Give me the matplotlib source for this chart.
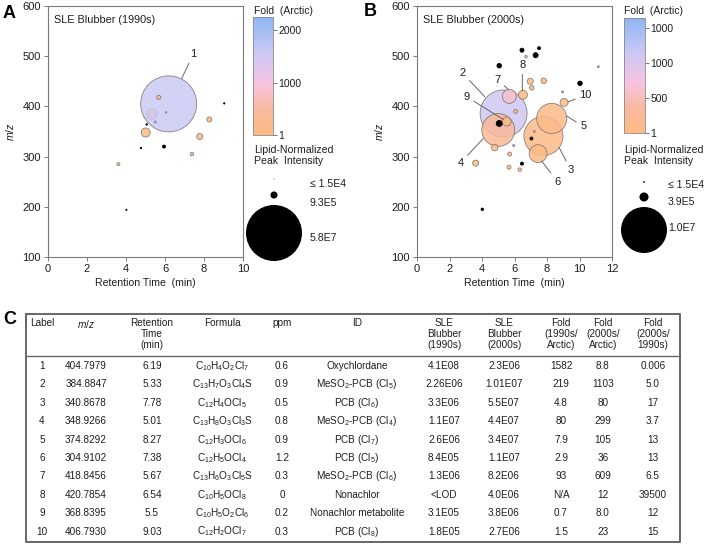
import numpy as np
import matplotlib
matplotlib.use("Agg")
import matplotlib.pyplot as plt
from matplotlib.colors import LinearSegmentedColormap, Normalize
from matplotlib.cm import ScalarMappable

plt.rcParams["font.family"] = ["Liberation Sans", "DejaVu Sans"]
plt.rcParams["mathtext.fontset"] = "custom"
plt.rcParams["mathtext.rm"] = "Liberation Sans"
plt.rcParams["mathtext.it"] = "Liberation Sans:italic"
plt.rcParams["mathtext.bf"] = "Liberation Sans:bold"

NAN = np.nan

# ---- panel A: SLE blubber 1990s ----
a_rt = [5.33, 6.19, 5.68, 6.06, 5.50, 5.06, 5.01, 5.95, 4.77, 3.61, 4.02, 7.78, 8.27, 7.38, 9.04]
a_mz = [385, 405, 418, 388, 369, 364, 348, 320, 317, 285, 194, 340, 374, 305, 406]
a_int = [2.2e6, 5.8e7, 3.0e5, 4e4, 7e4, 4e4, 1.5e6, 1.7e5, 4e4, 1.7e5, 2.7e4, 6.7e5, 4.6e5, 2.3e5, 3.1e4]
a_fold = [219, 1582, 93, 1000, 1000, NAN, 80, NAN, NAN, 3, NAN, 4.8, 7.9, 2.9, NAN]

# ---- panel B: SLE blubber 2000s ----
b_rt = [5.33, 7.78, 5.00, 8.29, 7.45, 5.68, 6.52, 5.52, 9.05, 4.78, 6.97, 3.61, 7.80, 7.06, 6.07,
        5.70, 5.66, 6.32, 6.71,
        5.06, 7.30, 5.06, 10.03, 6.46, 7.51, 7.04, 6.46, 4.02,
        11.16, 8.96, 7.22, 5.95]
b_mz = [386, 341, 353, 376, 306, 420, 423, 370, 408, 318, 450, 287, 451, 437, 390,
        305, 279, 274, 499,
        366, 502, 481, 446, 512, 516, 336, 286, 195,
        479, 429, 350, 322]
b_int = [1.04e7, 7.2e6, 5.1e6, 4.3e6, 1.5e6, 9.3e5, 3.8e5, 3.8e5, 3.0e5, 2.0e5, 1.7e5, 1.7e5, 1.4e5, 9.6e4, 7.6e4,
         7.6e4, 7.6e4, 5.8e4, 3e4,
         1.7e5, 1.2e5, 9.6e4, 9.6e4, 7.6e4, 4.3e4, 4.3e4, 4.3e4, 3e4,
         1.9e4, 1.9e4, 1.9e4, 1.9e4]
b_fold = [1103, 80, 299, 105, 36, 609, 12, 8.0, 23, 15, 10, 10, 10, 10, 8.8,
          10, 10, 10, 10,
          NAN, NAN, NAN, NAN, NAN, NAN, NAN, NAN, NAN,
          1500, 1500, 1500, 1500]

# labels: (label, bubble point, text point)
a_labels = [("1", (6.86, 456), (7.45, 504))]
b_labels = [
    ("2", (4.18, 419), (2.81, 466)),
    ("7", (5.62, 434), (4.94, 453)),
    ("8", (6.48, 431), (6.48, 482)),
    ("9", (5.31, 374), (3.06, 419)),
    ("4", (4.08, 336), (2.69, 288)),
    ("6", (7.67, 291), (8.66, 250)),
    ("3", (8.76, 317), (9.48, 273)),
    ("5", (9.21, 381), (10.23, 360)),
    ("10", (9.31, 409), (10.36, 423)),
]

# legend values
a_leg_vals = [1.5e4, 9.3e5, 5.8e7]
a_leg_text = ["\u2264 1.5E4", "9.3E5", "5.8E7"]
b_leg_vals = [1.5e4, 3.9e5, 1.0e7]
b_leg_text = ["\u2264 1.5E4", "3.9E5", "1.0E7"]

# colorbar ticks
a_cb_ticks = [1, 1000, 2000]
a_cb_labels = ["1", "1000", "2000"]
b_cb_ticks = [1, 500, 1000, 1500]
b_cb_labels = ["1", "500", "1000", "1000"]

# ---- table C ----
t_label = ["1", "2", "3", "4", "5", "6", "7", "8", "9", "10"]
t_mz = ["404.7979", "384.8847", "340.8678", "348.9266", "374.8292", "304.9102", "418.8456", "420.7854", "368.8395", "406.7930"]
t_rt = ["6.19", "5.33", "7.78", "5.01", "8.27", "7.38", "5.67", "6.54", "5.5", "9.03"]
t_formula = [r"C$_{10}$H$_4$O$_2$Cl$_7$", r"C$_{13}$H$_7$O$_3$Cl$_4$S", r"C$_{12}$H$_4$OCl$_5$",
             r"C$_{13}$H$_8$O$_3$Cl$_3$S", r"C$_{12}$H$_3$OCl$_6$", r"C$_{12}$H$_5$OCl$_4$",
             r"C$_{13}$H$_6$O$_3$Cl$_5$S", r"C$_{10}$H$_5$OCl$_8$", r"C$_{10}$H$_5$O$_2$Cl$_6$",
             r"C$_{12}$H$_2$OCl$_7$"]
t_ppm = ["0.6", "0.9", "0.5", "0.8", "0.9", "1.2", "0.3", "0", "0.2", "0.3"]
t_id = ["Oxychlordane", r"MeSO$_2$-PCB (Cl$_5$)", r"PCB (Cl$_6$)", r"MeSO$_2$-PCB (Cl$_4$)", r"PCB (Cl$_7$)",
        r"PCB (Cl$_5$)", r"MeSO$_2$-PCB (Cl$_6$)", "Nonachlor", "Nonachlor metabolite", r"PCB (Cl$_8$)"]
t_sle90 = ["4.1E08", "2.26E06", "3.3E06", "1.1E07", "2.6E06", "8.4E05", "1.3E06", "<LOD", "3.1E05", "1.8E05"]
t_sle00 = ["2.3E06", "1.01E07", "5.5E07", "4.4E07", "3.4E07", "1.1E07", "8.2E06", "4.0E06", "3.8E06", "2.7E06"]
t_f90 = ["1582", "219", "4.8", "80", "7.9", "2.9", "93", "N/A", "0.7", "1.5"]
t_f00 = ["8.8", "1103", "80", "299", "105", "36", "609", "12", "8.0", "23"]
t_fratio = ["0.006", "5.0", "17", "3.7", "13", "13", "6.5", "39500", "12", "15"]
t_headers = ["Label", "$m/z$", "Retention\nTime\n(min)", "Formula", "ppm", "ID",
             "SLE\nBlubber\n(1990s)", "SLE\nBlubber\n(2000s)", "Fold\n(1990s/\nArctic)",
             "Fold\n(2000s/\nArctic)", "Fold\n(2000s/\n1990s)"]

cmap = LinearSegmentedColormap.from_list(
    "fold", [(0, "#FDBB80"), (0.2, "#F9B99C"), (0.45, "#F6C4E2"), (0.7, "#CAC9F5"), (1, "#8DB6F2")])

W, H = 709, 544
fig = plt.figure(figsize=(W / 100, H / 100), dpi=100)

# pixel overlay for loose text, legend and table
ov = fig.add_axes([0, 0, 1, 1])
ov.set_xlim(0, W)
ov.set_ylim(H, 0)
ov.axis("off")


def sizes(vals, ref_val, ref_px):
    d = ref_px * np.sqrt(np.asarray(vals, float) / ref_val)
    return (d * 0.72) ** 2


SP = "#7a7a7a"
TXT = "#1e1e1e"


def panel(rect, rt, mz, inten, fold, vmax, ref_val, ref_px, xmax, title, labels):
    ax = fig.add_axes(rect)
    norm = Normalize(1, vmax)
    fc, ec = [], []
    for f in fold:
        if np.isnan(f):
            fc.append((0, 0, 0, 1)); ec.append((0, 0, 0, 1))
        else:
            r, g, b, _ = cmap(norm(f))
            fc.append((r, g, b, 0.85)); ec.append((0.5, 0.46, 0.44, 0.9))
    ax.scatter(rt, mz, s=sizes(inten, ref_val, ref_px), c=fc, edgecolors=ec, linewidths=0.6, zorder=3)
    for lab, xy, xt in labels:
        ax.annotate(lab, xy=xy, xytext=xt, ha="center", va="center", fontsize=8, color=TXT,
                    arrowprops=dict(arrowstyle="-", color="#666", lw=0.7, shrinkA=1, shrinkB=0))
    ax.set_xlim(0, xmax)
    ax.set_ylim(100, 600)
    ax.set_xticks(range(0, xmax + 1, 2))
    ax.set_yticks(range(100, 601, 100))
    for s in ax.spines.values():
        s.set_color(SP); s.set_linewidth(0.8)
    ax.tick_params(labelsize=8, length=3, width=0.7, color=SP, labelcolor=TXT, pad=2)
    ax.set_xlabel("Retention Time  (min)", fontsize=7.6, color=TXT, labelpad=3)
    ax.set_ylabel("$m/z$", fontsize=7.6, color=TXT, labelpad=5)
    ax.text(0.03, 0.965, title, transform=ax.transAxes, fontsize=7.8, color=TXT, va="top")
    return norm


def colorbar(rect, norm, ticks, labels):
    cax = fig.add_axes(rect)
    cb = fig.colorbar(ScalarMappable(norm=norm, cmap=cmap), cax=cax, ticks=ticks)
    cb.ax.set_yticklabels(labels)
    cb.outline.set_edgecolor("#888")
    cb.outline.set_linewidth(0.6)
    cb.ax.tick_params(labelsize=7.5, length=3, width=0.6, color="#666", labelcolor=TXT, pad=1)


norm_a = panel([48 / W, 1 - 257 / H, 195 / W, 251 / H], a_rt, a_mz, a_int, a_fold, 2250,
               a_leg_vals[-1], 56, 10, "SLE Blubber (1990s)", a_labels)
norm_b = panel([417 / W, 1 - 257 / H, 195 / W, 251 / H], b_rt, b_mz, b_int, b_fold, 1650,
               b_leg_vals[-1], 46, 12, "SLE Blubber (2000s)", b_labels)
colorbar([253 / W, 1 - 135 / H, 20 / W, 118 / H], norm_a, a_cb_ticks, a_cb_labels)
colorbar([624 / W, 1 - 133 / H, 21 / W, 115 / H], norm_b, b_cb_ticks, b_cb_labels)

# panel letters
ov.text(3, 14, "A", fontsize=13, fontweight="bold", va="center")
ov.text(364, 12, "B", fontsize=13, fontweight="bold", va="center")
ov.text(3, 320, "C", fontsize=13, fontweight="bold", va="center")

# colorbar titles and size legends
for x0, cy, ty, vals, texts, ref_px, tx in [
    (254, [179, 195, 233], [184, 203, 238], a_leg_vals, a_leg_text, 56, 310),
    (624, [182, 197, 230], [185, 202, 228], b_leg_vals, b_leg_text, 46, 668),
]:
    ov.text(x0, 11, "Fold  (Arctic)", fontsize=7.5, color=TXT, va="center")
    ov.text(x0, 145, "Lipid-Normalized\nPeak  Intensity", fontsize=7.6, color=TXT, va="top", linespacing=1.15)
    ov.scatter([x0 + 20] * 3, cy, s=sizes(vals, vals[-1], ref_px), color="black", lw=0)
    for y, t in zip(ty, texts):
        ov.text(tx, y, t, fontsize=7.6, color=TXT, va="center")

# table
cols_x = [42, 86, 152, 222, 282, 357, 444, 504, 561, 603, 653]
for x, h in zip(cols_x, t_headers):
    ov.text(x, 318, h, fontsize=7.2, ha="center", va="top", multialignment="center", color=TXT,
            linespacing=1.15)
columns = [t_label, t_mz, t_rt, t_formula, t_ppm, t_id, t_sle90, t_sle00, t_f90, t_f00, t_fratio]
for i in range(len(t_label)):
    y = 366 + i * 18.4
    for x, col in zip(cols_x, columns):
        ov.text(x, y, col[i], fontsize=7.2, ha="center", va="center", color=TXT)
ov.plot([26, 680, 680, 26, 26], [314, 314, 542, 542, 314], color="#666", lw=1.4)
ov.plot([26, 680], [356, 356], color="#666", lw=1.0)

fig.savefig("out.png", dpi=100)
